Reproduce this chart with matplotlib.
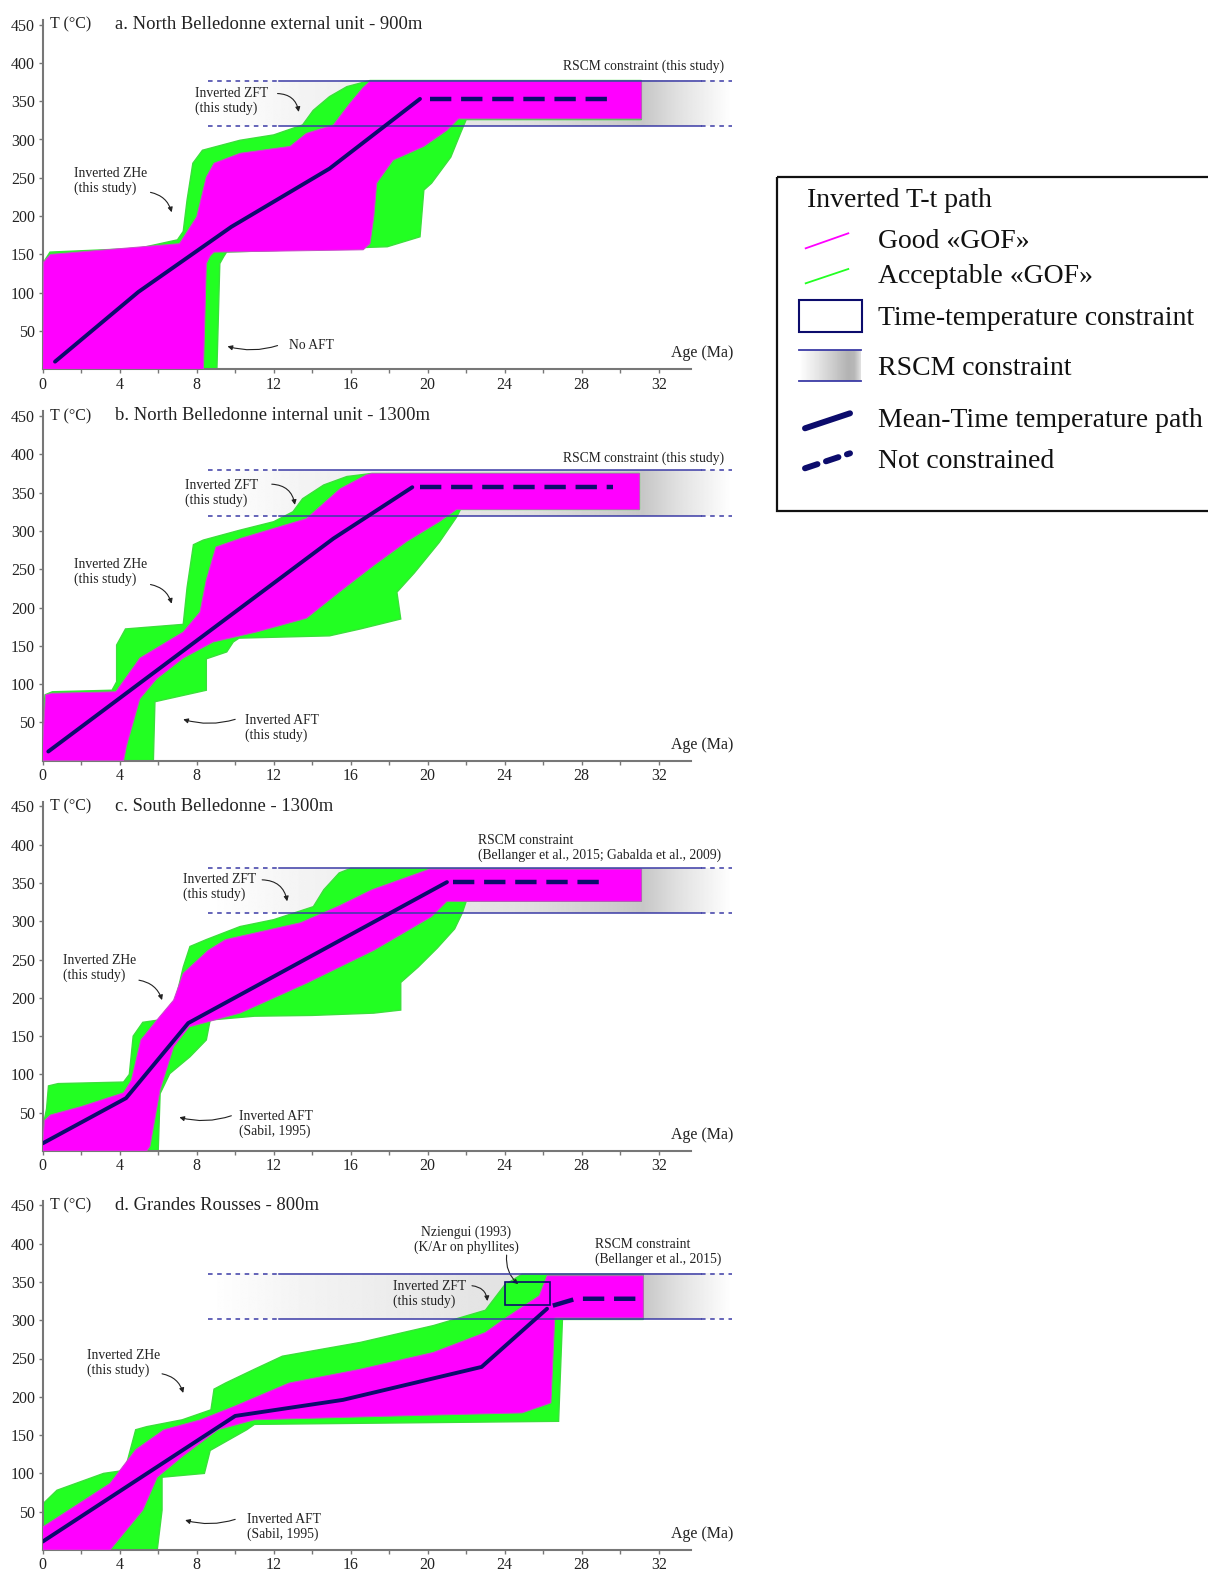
import numpy as np
import matplotlib
matplotlib.use('Agg')
import matplotlib.pyplot as plt
from matplotlib.patches import Polygon, Rectangle

plt.rcParams['font.family'] = ['Liberation Serif', 'DejaVu Serif']

# Panel titles and tick values
titles = ['a. North Belledonne external unit - 900m',
          'b. North Belledonne internal unit - 1300m',
          'c. South Belledonne - 1300m',
          'd. Grandes Rousses - 800m']
age_ticks = [0, 4, 8, 12, 16, 20, 24, 28, 32]
temp_ticks = [50, 100, 150, 200, 250, 300, 350, 400, 450]

# RSCM constraint bands (degC)
rscm_low = [318, 320, 311, 301]
rscm_high = [377, 379, 369, 360]
rscm_text = ['RSCM constraint (this study)',
             'RSCM constraint (this study)',
             'RSCM constraint\n(Bellanger et al., 2015; Gabalda et al., 2009)',
             'RSCM constraint\n(Bellanger et al., 2015)']

# Envelopes of acceptable (green) and good (magenta) paths: (age Ma, T degC)
a_green = [(0, 0), (0, 138), (0.38, 153), (5.0, 158), (7.0, 169), (7.3, 180), (7.5, 221),
           (7.8, 269), (8.3, 286), (10.25, 299), (12, 306), (13.5, 319), (14.05, 338),
           (14.9, 356), (15.8, 369), (17.0, 377), (31.1, 377), (31.1, 326), (22.0, 326),
           (21.7, 308), (21.2, 277), (20.2, 243), (19.8, 234), (19.6, 173), (17.9, 160),
           (9.55, 153), (9.4, 147), (9.2, 138), (9.05, 0)]
a_magenta = [(0, 0), (0.05, 140), (0.4, 150), (7.1, 164), (8.0, 199), (8.5, 251), (8.9, 269),
             (10.25, 282), (12.85, 291), (13.7, 308), (15.1, 319), (15.95, 347), (16.65, 368),
             (17.0, 376), (31.1, 376), (31.1, 327), (21.6, 327), (21.0, 312), (19.8, 291),
             (18.2, 273), (17.35, 243), (17.2, 199), (17.0, 164), (16.65, 156), (8.9, 153),
             (8.7, 148), (8.5, 138), (8.35, 0)]

b_green = [(0, 0), (0, 50), (0.12, 86), (0.5, 90), (3.6, 92), (3.84, 103), (3.84, 151),
           (4.3, 172), (7.3, 178), (7.5, 226), (7.83, 282), (8.34, 288), (10.25, 301),
           (12, 312), (13, 325), (13.5, 342), (14.6, 360), (15.8, 371), (17.1, 375), (31, 375),
           (31, 328), (21.7, 328), (21.5, 318), (20.6, 285), (19.3, 245), (18.4, 220),
           (18.6, 185), (16.5, 172), (14.9, 163), (10.2, 160), (9.9, 155), (9.56, 142),
           (8.5, 133), (8.5, 92), (5.83, 77), (5.75, 0)]
b_magenta = [(0, 0), (0, 20), (0.15, 86), (0.5, 88), (3.8, 90), (5.05, 134), (7.3, 168),
             (8.17, 194), (8.5, 236), (9.0, 279), (10.25, 290), (13.7, 316), (15.45, 355),
             (16.8, 373), (17.1, 375), (31, 375), (31, 328), (21.5, 328), (20.6, 312),
             (18.9, 286), (17.2, 255), (15.45, 221), (13.7, 186), (11.1, 168), (8.86, 155),
             (7.3, 134), (5.92, 107), (5.05, 81), (4.36, 20), (4.2, 0)]

c_green = [(0, 0), (0, 30), (0.2, 55), (0.3, 85), (0.8, 88), (4.2, 90), (4.5, 100),
           (4.7, 150), (5.2, 168), (6.3, 172), (6.9, 197), (7.3, 240), (7.65, 267), (8.5, 276),
           (10.25, 293), (12, 302), (14.06, 319), (14.6, 341), (15.4, 363), (16, 369),
           (31.1, 368), (31.1, 326), (22.0, 326), (21.8, 311), (21.4, 290), (20.5, 265),
           (19.5, 240), (18.6, 220), (18.6, 184), (17.2, 180), (14, 177), (11, 176),
           (8.7, 171), (8.5, 145), (7.65, 123), (6.6, 101), (6.1, 75), (6.0, 0)]
c_magenta = [(0, 0), (0, 10), (0.1, 40), (0.4, 47), (2, 58), (4.2, 76), (4.6, 92),
             (5.1, 145), (5.9, 170), (6.8, 197), (7.3, 232), (8.6, 262), (9.5, 276),
             (13.4, 298), (15.4, 320), (17.1, 341), (20.1, 368), (31.1, 368), (31.1, 326),
             (21, 326), (20.2, 306), (17.2, 262), (13.7, 219), (10.25, 180), (7.6, 162),
             (6.8, 136), (6.1, 80), (5.57, 6), (5.4, 0)]

d_green = [(0, 0), (0, 60), (0.74, 78), (3.16, 100), (4.27, 104), (4.83, 157), (5.4, 161),
           (7.25, 170), (8.74, 183), (8.9, 210), (9.5, 218), (11, 236), (12.45, 253),
           (16.5, 271), (20.3, 293), (23, 313), (24, 346), (24.9, 360), (31.2, 360),
           (31.2, 301), (27.0, 301), (26.8, 168), (11, 164), (10.6, 157), (8.7, 130),
           (8.4, 100), (6.2, 95), (6.2, 52), (5.95, 0)]
d_magenta = [(0, 0), (0, 30), (3.5, 87), (4.83, 131), (6.3, 157), (8.2, 170), (10.0, 188),
             (12.8, 218), (16.5, 236), (20.3, 258), (23, 284), (24, 302), (25.8, 332),
             (26.2, 358), (31.2, 358), (31.2, 303), (26.6, 303), (26.4, 192), (24.9, 179),
             (18.4, 175), (11, 170), (9.1, 157), (7.25, 122), (5.95, 95), (5.2, 52), (3.5, 0)]

# Mean time-temperature paths (solid) and unconstrained part (dashed)
a_mean_x = [0.64, 4.97, 9.8, 14.9, 19.6]
a_mean_y = [10, 101, 186, 262, 353]
a_free_x = [20.1, 29.6]
a_free_y = [353, 353]
b_mean_x = [0.29, 15.1, 19.2]
b_mean_y = [12, 290, 357]
b_free_x = [19.6, 29.6]
b_free_y = [357, 357]
c_mean_x = [0.0, 4.33, 7.56, 21.0]
c_mean_y = [10, 69, 167, 351]
c_free_x = [21.3, 29.2]
c_free_y = [351, 351]
d_mean_x = [0.0, 7.8, 10.0, 15.6, 22.8, 26.2]
d_mean_y = [11, 139, 175, 196, 239, 315]
d_free_x = [26.5, 27.7, 31.2]
d_free_y = [319, 328, 328]

# Time-temperature constraint box (panel d): age range, T range
d_box_age = [24.0, 26.35]
d_box_temp = [320, 350]

greens = [a_green, b_green, c_green, d_green]
magentas = [a_magenta, b_magenta, c_magenta, d_magenta]
means = [(a_mean_x, a_mean_y), (b_mean_x, b_mean_y), (c_mean_x, c_mean_y), (d_mean_x, d_mean_y)]
frees = [(a_free_x, a_free_y), (b_free_x, b_free_y), (c_free_x, c_free_y), (d_free_x, d_free_y)]

NAVY = '#0c0c6c'
RSCM_BLUE = '#3b3ba6'
GREEN = '#22ff22'
MAGENTA = '#ff00ff'
AXC = '#777777'
TXT = '#222222'

W, H = 1208, 1573
fig = plt.figure(figsize=(W / 100, H / 100), dpi=100)

bottoms_px = [369.3, 760.7, 1151.0, 1550.0]
px_per_ma = 19.25
px_per_deg = 0.766
xmax, ymax = 33.7, 456

gx = np.linspace(8.6, 35.8, 400)
gprof = np.interp(gx, [8.6, 14, 25, 31.2, 33.0, 35.8], [1.0, 0.95, 0.88, 0.78, 0.88, 1.0])

axes = []
for i in range(4):
    ax = fig.add_axes([42.7 / W, (H - bottoms_px[i]) / H,
                       xmax * px_per_ma / W, ymax * px_per_deg / H])
    axes.append(ax)
    lo, hi = rscm_low[i], rscm_high[i]

    # RSCM gradient band
    im = ax.imshow(gprof[None, :], cmap='gray', vmin=0, vmax=1, aspect='auto',
                   extent=[8.6, 35.8, lo, hi], zorder=0, interpolation='bilinear')
    im.set_clip_on(False)
    for yv in (lo, hi):
        ax.plot([8.6, 12.3], [yv, yv], color=RSCM_BLUE, lw=1.1, ls=(0, (3, 3)), clip_on=False, zorder=1)
        ax.plot([34.2, 35.8], [yv, yv], color=RSCM_BLUE, lw=1.1, ls=(0, (3, 3)), clip_on=False, zorder=1)

    # path envelopes
    ax.add_patch(Polygon(greens[i], closed=True, facecolor=GREEN, edgecolor='#3be03b', lw=1.0, zorder=2))
    ax.add_patch(Polygon(magentas[i], closed=True, facecolor=MAGENTA, edgecolor='#c84cc8', lw=0.7, zorder=3))
    for yv in (lo, hi):
        ax.plot([12.3, 34.2], [yv, yv], color=RSCM_BLUE, lw=1.1, clip_on=False, zorder=4)

    # mean path
    mx, my = means[i]
    ax.plot(mx, my, color=NAVY, lw=2.8, solid_capstyle='round', solid_joinstyle='round', zorder=6)
    fx, fy = frees[i]
    ax.plot(fx, fy, color=NAVY, lw=3.2, dashes=(4.8, 2.2), zorder=6)

    ax.set_xlim(0, xmax)
    ax.set_ylim(0, ymax)
    ax.set_xticks(age_ticks)
    ax.set_xticks(list(range(2, 33, 4)), minor=True)
    ax.set_yticks(temp_ticks)
    ax.tick_params(which='both', direction='out', length=3, width=1, color=AXC,
                   labelsize=11.5, labelcolor=TXT, pad=2.5)
    ax.tick_params(axis='x', pad=1.8 if i == 3 else 2.2)
    for s in ('top', 'right'):
        ax.spines[s].set_visible(False)
    for s in ('left', 'bottom'):
        ax.spines[s].set_color(AXC)
        ax.spines[s].set_linewidth(1.5)
    ax.patch.set_alpha(0)

    ax.text(0.38, 450, 'T (°C)', fontsize=11.5, va='center', ha='left', color=TXT, clip_on=False)
    ax.text(3.76, 450, titles[i], fontsize=13.4, va='center', ha='left', color=TXT, clip_on=False)
    ax.text(35.9, 21, 'Age (Ma)', fontsize=11.5, va='center', ha='right', color=TXT, clip_on=False)

arrow_kw = dict(arrowstyle='-|>', color=TXT, lw=0.8, mutation_scale=7, shrinkA=0, shrinkB=0)
fs = 9.8


def note(ax, x, y, txt, ha='left'):
    ax.text(x, y, txt, fontsize=fs, ha=ha, va='center', color=TXT, linespacing=1.15, clip_on=False)


def arrow(ax, start, end, rad):
    ax.annotate('', xy=end, xytext=start, arrowprops=dict(connectionstyle='arc3,rad=%s' % rad, **arrow_kw),
                annotation_clip=False)


# panel a
ax = axes[0]
ax.text(35.4, 395, rscm_text[0], fontsize=fs, ha='right', va='center', color=TXT, clip_on=False)
note(ax, 7.9, 350, 'Inverted ZFT\n(this study)')
arrow(ax, (12.2, 360), (13.3, 336), -0.4)
note(ax, 1.6, 246, 'Inverted ZHe\n(this study)')
arrow(ax, (5.6, 231), (6.7, 205), -0.3)
note(ax, 12.8, 31, 'No AFT')
arrow(ax, (12.2, 31), (9.6, 30), -0.15)

# panel b
ax = axes[1]
ax.text(35.4, 395, rscm_text[1], fontsize=fs, ha='right', va='center', color=TXT, clip_on=False)
note(ax, 7.4, 350, 'Inverted ZFT\n(this study)')
arrow(ax, (11.9, 361), (13.1, 334), -0.4)
note(ax, 1.6, 246, 'Inverted ZHe\n(this study)')
arrow(ax, (5.6, 230), (6.7, 205), -0.3)
note(ax, 10.5, 43, 'Inverted AFT\n(this study)')
arrow(ax, (10.0, 54), (7.3, 54), -0.15)

# panel c
ax = axes[2]
note(ax, 22.6, 395.5, rscm_text[2])
note(ax, 7.3, 344.5, 'Inverted ZFT\n(this study)')
arrow(ax, (11.4, 354), (12.7, 326), -0.4)
note(ax, 1.05, 238.5, 'Inverted ZHe\n(this study)')
arrow(ax, (5.0, 223), (6.2, 197), -0.3)
note(ax, 10.2, 35, 'Inverted AFT\n(Sabil, 1995)')
arrow(ax, (9.8, 46), (7.1, 44), -0.15)

# panel d
ax = axes[3]
ax.add_patch(Rectangle((d_box_age[0], d_box_temp[0]), d_box_age[1] - d_box_age[0],
                       d_box_temp[1] - d_box_temp[0], fill=False, edgecolor=NAVY, lw=1.2, zorder=7))
note(ax, 22.0, 404.5, 'Nziengui (1993)\n(K/Ar on phyllites)', ha='center')
arrow(ax, (24.1, 385), (24.7, 347), 0.25)
note(ax, 28.7, 389, rscm_text[3])
note(ax, 18.2, 334.5, 'Inverted ZFT\n(this study)')
arrow(ax, (22.3, 345), (23.1, 325), -0.4)
note(ax, 2.3, 244.5, 'Inverted ZHe\n(this study)')
arrow(ax, (6.2, 230), (7.3, 205), -0.3)
note(ax, 10.6, 29.5, 'Inverted AFT\n(Sabil, 1995)')
arrow(ax, (10.0, 40), (7.4, 39), -0.15)

# legend drawn in pixel coordinates
lax = fig.add_axes([0, 0, 1, 1])
lax.patch.set_visible(False)
lax.axis('off')
lax.add_patch(Rectangle((777, 177), 450, 334, fill=False, edgecolor='#111111', lw=1.6, clip_on=False))
lfs = 20
lax.text(806.7, 207.3, 'Inverted T-t path', fontsize=lfs, va='baseline', ha='left', color='#111111')
lax.plot([805.7, 848.3], [248.3, 233.3], color=MAGENTA, lw=1.3)
lax.text(878.3, 248.3, 'Good «GOF»', fontsize=lfs, va='baseline', ha='left', color='#111111')
lax.plot([805.7, 848.3], [283.3, 269.0], color=GREEN, lw=1.3)
lax.text(878.3, 283.3, 'Acceptable «GOF»', fontsize=lfs, va='baseline', ha='left', color='#111111')
lax.add_patch(Rectangle((799, 300), 62.7, 31.7, fill=False, edgecolor=NAVY, lw=1.5))
lax.text(878.3, 325, 'Time-temperature constraint', fontsize=lfs, va='baseline', ha='left', color='#111111')
lt = np.linspace(0, 1, 100)
lprof = np.interp(lt, [0, 0.3, 0.8, 0.9, 1.0], [1.0, 0.9, 0.7, 0.72, 0.88])
lax.imshow(lprof[None, :], cmap='gray', vmin=0, vmax=1, aspect='auto',
           extent=[799, 861, 380.7, 350], interpolation='bilinear')
lax.plot([799, 861], [350, 350], color=RSCM_BLUE, lw=1.3)
lax.plot([799, 861], [380.7, 380.7], color=RSCM_BLUE, lw=1.3)
lax.text(878.3, 375, 'RSCM constraint', fontsize=lfs, va='baseline', ha='left', color='#111111')
lax.plot([805, 850], [428.3, 413.3], color=NAVY, lw=4.3, solid_capstyle='round')
lax.text(878.3, 427.3, 'Mean-Time temperature path', fontsize=lfs, va='baseline', ha='left', color='#111111')
lax.plot([805, 850], [468.3, 453.3], color=NAVY, lw=4.3, dashes=(2.2, 1.5), dash_capstyle='round')
lax.text(878.3, 467.7, 'Not constrained', fontsize=lfs, va='baseline', ha='left', color='#111111')
lax.set_xlim(0, W)
lax.set_ylim(H, 0)

fig.savefig('out.png', dpi=100)
